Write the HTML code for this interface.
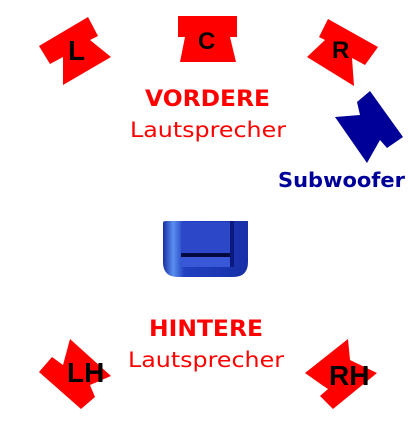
<!DOCTYPE html>
<html><head><meta charset="utf-8"><style>
html,body{margin:0;padding:0;background:#fff;}
svg{display:block;}
.t{font-family:"DejaVu Sans","Liberation Sans",sans-serif;}
.b{font-family:"Liberation Sans",sans-serif;font-weight:bold;fill:#000;}
</style></head><body>
<svg width="413" height="426" viewBox="0 0 413 426" xmlns="http://www.w3.org/2000/svg">
<defs>
<linearGradient id="cg" x1="0" x2="1" y1="0" y2="0">
<stop offset="0" stop-color="#1a2fa0"/><stop offset="0.12" stop-color="#5a8ff0"/><stop offset="0.25" stop-color="#2040c0"/><stop offset="1" stop-color="#1830a8"/>
</linearGradient>
</defs>
<g>
<polygon points="39,46 88,17 98,36 90,40 111,57 63,85 63,57 50,64" fill="#ff0000"/>
<text x="68" y="60" class="b" font-size="28">L</text>
</g>
<g>
<polygon points="178,16 237,16 237,37 230,37 236,62 180,62 185,37 178,37" fill="#ff0000"/>
<text x="198" y="49" class="b" font-size="24">C</text>
</g>
<g>
<polygon points="378,47 328,19 319,37 325,40 307,57 354,86 352,58 365,65" fill="#ff0000"/>
<text x="332" y="58" class="b" font-size="24">R</text>
</g>
<text x="145" y="106" class="t" font-size="22" font-weight="bold" fill="#ff0000" textLength="125" lengthAdjust="spacingAndGlyphs">VORDERE</text>
<text x="130" y="137" class="t" font-size="21" fill="#ff0000" textLength="156" lengthAdjust="spacingAndGlyphs">Lautsprecher</text>
<g>
<polygon points="357,102 370,91 403,137 387,148 380,140 367,163 335,117 360,115" fill="#000099"/>
</g>
<text x="278" y="187" class="t" font-size="20" font-weight="bold" fill="#000099" textLength="127" lengthAdjust="spacingAndGlyphs">Subwoofer</text>
<g>
<path d="M163,223 Q163,221 166,221 L248,221 L248,262 Q248,277 233,277 L178,277 Q163,277 163,262 Z" fill="url(#cg)"/>
<rect x="181" y="222" width="49" height="31" fill="#2c48c8"/>
<rect x="181" y="253" width="49" height="4" fill="#000a40"/>
<rect x="181" y="257" width="49" height="10" fill="#3858d8"/>
<rect x="230" y="221" width="4" height="46" fill="#0c1a80"/>
</g>
<text x="149" y="336" class="t" font-size="22" font-weight="bold" fill="#ff0000" textLength="114" lengthAdjust="spacingAndGlyphs">HINTERE</text>
<text x="128" y="367" class="t" font-size="21" fill="#ff0000" textLength="156" lengthAdjust="spacingAndGlyphs">Lautsprecher</text>
<g>
<polygon points="39,372 52,357 63,365 70,339 111,376 90,385 95,397 81,409" fill="#ff0000"/>
<text x="67" y="382" class="b" font-size="28">LH</text>
</g>
<g>
<polygon points="305,373 348,339 350,360 377,373 333,409 320,396 328,389 322,385" fill="#ff0000"/>
<text x="329" y="385" class="b" font-size="28">RH</text>
</g>
</svg>
</body></html>
